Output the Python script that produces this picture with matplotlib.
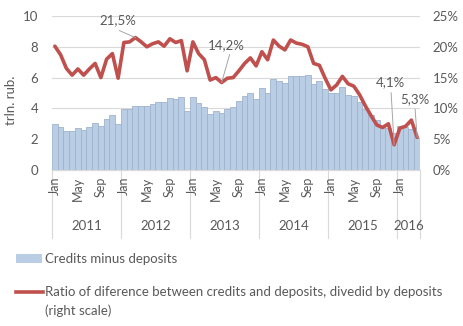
import matplotlib
matplotlib.use("Agg")
import matplotlib.pyplot as plt
from matplotlib.patches import Rectangle
from matplotlib.lines import Line2D
import numpy as np

plt.rcParams['font.family'] = ['Lato', 'DejaVu Sans']

years = ["2011", "2012", "2013", "2014", "2015", "2016"]
months_per_year = [12, 12, 12, 12, 12, 4]
month_labels = ["Jan", "May", "Sep"]

# Credits minus deposits, trln. rub. (Jan 2011 - Apr 2016)
credits_minus_deposits = [
    3.0, 2.8, 2.55, 2.55, 2.73, 2.6, 2.8, 3.05, 2.86, 3.3, 3.57, 3.0,
    3.96, 3.96, 4.15, 4.15, 4.15, 4.29, 4.42, 4.42, 4.68, 4.6, 4.74, 3.83,
    4.74, 4.35, 4.09, 3.64, 3.83, 3.7, 3.96, 4.09, 4.48, 4.8, 5.0, 4.61,
    5.32, 5.0, 5.9, 5.78, 5.65, 6.1, 6.1, 6.1, 6.17, 5.58, 5.78, 5.26,
    4.98, 5.02, 5.39, 4.87, 4.8, 4.4, 3.94, 3.57, 3.25, 2.81, 2.7, 2.38,
    2.86, 2.81, 2.64, 2.06,
]

# Ratio of difference between credits and deposits to deposits, %
ratio_pct = [
    20.1, 18.7, 16.5, 15.4, 16.4, 15.4, 16.4, 17.3, 15.0, 18.0, 18.9, 14.9,
    20.7, 20.8, 21.5, 20.8, 20.0, 20.5, 20.8, 20.1, 21.3, 20.7, 21.0, 16.1,
    20.8, 18.9, 17.9, 14.6, 15.0, 14.2, 14.9, 15.0, 16.1, 17.3, 18.2, 16.9,
    19.2, 17.9, 21.1, 20.1, 19.5, 21.1, 20.6, 20.4, 20.0, 17.3, 17.0, 14.9,
    13.0, 13.8, 15.2, 14.0, 13.6, 12.2, 10.4, 8.8, 7.3, 6.9, 7.5, 4.1,
    6.8, 7.1, 8.1, 5.3,
]

annotation_idx = [14, 29, 59, 63]
annotation_txt = ["21,5%", "14,2%", "4,1%", "5,3%"]

bar_color = "#b9cde5"
bar_edge = "#9fb3cc"
line_color = "#c0504d"
text_color = "#595959"
grid_color = "#d9d9d9"

fig = plt.figure(figsize=(4.64, 3.26), dpi=100)
ax = fig.add_axes([52/464, 1-170/326, 368/464, 154/326])
ax2 = ax.twinx()

x = np.arange(len(credits_minus_deposits))
ax.bar(x, credits_minus_deposits, width=1.0, color=bar_color,
       edgecolor=bar_edge, linewidth=0.6, zorder=2)
ax.set_xlim(-0.5, len(x) - 0.5)
ax.set_ylim(0, 10)
ax.set_yticks(range(0, 11, 2))
ax.grid(axis='y', color=grid_color, linewidth=0.8, zorder=0)
ax.set_axisbelow(True)
ax.tick_params(axis='y', length=0, pad=10, labelsize=9.5, labelcolor=text_color)
ax.set_ylabel("trln. rub.", color=text_color, fontsize=9.5)
ax.yaxis.set_label_coords(-0.095, 0.45)

ax2.plot(x, ratio_pct, color=line_color, linewidth=2.6, zorder=5,
         solid_joinstyle='round', solid_capstyle='round')
ax2.set_ylim(0, 25)
ax2.set_yticks(range(0, 26, 5))
ax2.set_yticklabels([f"{v}%" for v in range(0, 26, 5)])
ax2.tick_params(axis='y', length=0, pad=9, labelsize=9.5, labelcolor=text_color)

for a in (ax, ax2):
    for s in ("top", "right", "left"):
        a.spines[s].set_visible(False)
    a.spines["bottom"].set_color(grid_color)

# x axis: month labels and year groups
ax.set_xticks([])
boundaries = np.cumsum([0] + months_per_year) - 0.5
for b in boundaries:
    ax.add_line(Line2D([b, b], [0, -0.44], transform=ax.get_xaxis_transform(),
                       color=grid_color, linewidth=0.8, clip_on=False))
start = 0
for yr, n in zip(years, months_per_year):
    for k, lab in zip([0, 4, 8], month_labels):
        if k < n:
            ax.text(start + k, -0.045, lab, transform=ax.get_xaxis_transform(),
                    rotation=90, ha='center', va='top', fontsize=9, color=text_color)
    ax.text(start + n / 2 - 0.5, -0.365, yr, transform=ax.get_xaxis_transform(),
            ha='center', va='center', fontsize=9.5, color=text_color)
    start += n

# annotations: label offsets in pixels (dx, dy) of text centre and of leader start
text_off = [(-17, 17), (5, 37), (-4, 63), (-2, 38)]
lead_off = [(-16, 7), (8, 28), (-3, 52), (-2, 28)]
for i, txt, (tdx, tdy), (ldx, ldy) in zip(annotation_idx, annotation_txt, text_off, lead_off):
    px, py = ax2.transData.transform((i, ratio_pct[i]))
    tx, ty = ax2.transData.inverted().transform((px + tdx, py + tdy))
    lx, ly = ax2.transData.inverted().transform((px + ldx, py + ldy))
    ax2.plot([lx, i], [ly, ratio_pct[i]], color='#a6a6a6', linewidth=0.7, zorder=6)
    ax2.text(tx, ty, txt, ha='center', va='center', fontsize=9.5,
             color=text_color, zorder=7)

# legend
fig.patches.append(Rectangle((16/464, 1-263/326), 26/464, 9/326, transform=fig.transFigure,
                             facecolor=bar_color, edgecolor='none'))
fig.text(45/464, 1-259/326, "Credits minus deposits", ha='left', va='center',
         fontsize=9.5, color=text_color)
fig.lines.append(Line2D([16/464, 43/464], [1-292/326, 1-292/326], transform=fig.transFigure,
                        color=line_color, linewidth=2.6))
fig.text(45/464, 1-292/326, "Ratio of diference between credits and deposits, divedid by deposits",
         ha='left', va='center', fontsize=9.5, color=text_color)
fig.text(45/464, 1-311/326, "(right scale)", ha='left', va='center',
         fontsize=9.5, color=text_color)

fig.savefig("out.png", dpi=100)
